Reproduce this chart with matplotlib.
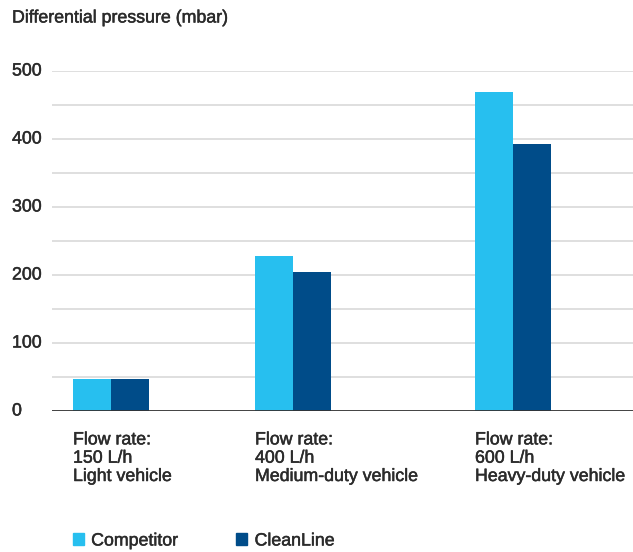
import matplotlib
matplotlib.use("Agg")
import matplotlib.pyplot as plt
import matplotlib.patches as mpatches
import matplotlib.transforms as mtransforms
import matplotlib.patheffects as pe

# ── Data ─────────────────────────────────────────────────────────────────────
categories = [
    "Flow rate:\n150 L/h\nLight vehicle",
    "Flow rate:\n400 L/h\nMedium-duty vehicle",
    "Flow rate:\n600 L/h\nHeavy-duty vehicle",
]
competitor = [47, 228, 469]
cleanline = [47, 204, 393]
series_names = ["Competitor", "CleanLine"]
y_ticks = [0, 100, 200, 300, 400, 500]

# ── Style ────────────────────────────────────────────────────────────────────
COMP_COLOR = "#27BFEF"
CLEAN_COLOR = "#004C89"
TEXT_COLOR = "#2b2b2b"
GRID_COLOR = "#d9d9d9"
FONT = "Liberation Sans"
FS = 12.8
# slight stroke to mimic the medium weight of the original typeface
BOLDEN = [pe.withStroke(linewidth=0.35, foreground=TEXT_COLOR)]

plt.rcParams["font.family"] = [FONT, "DejaVu Sans"]

W, H = 633, 552
fig = plt.figure(figsize=(W / 100, H / 100), dpi=100)

# axes spans the plot area in pixel terms: x 52..633, y 71..411
ax = fig.add_axes([52 / W, (H - 411) / H, (W - 52) / W, 340 / H])

# x positions (in pixels from axes left edge) of the left edge of each group
group_left = [21, 203, 423]
bar_w = 38

for i in range(len(categories)):
    x0 = group_left[i]
    ax.bar(x0, competitor[i], width=bar_w, align="edge", color=COMP_COLOR, zorder=3)
    ax.bar(x0 + bar_w, cleanline[i], width=bar_w, align="edge", color=CLEAN_COLOR, zorder=3)
    ax.text(x0, -0.060, categories[i], transform=ax.get_xaxis_transform(),
            ha="left", va="top", fontsize=FS, color=TEXT_COLOR, linespacing=1.1,
            path_effects=BOLDEN)

ax.set_xlim(0, W - 52)
ax.set_ylim(0, 500)

# gridlines every 50, labels every 100
for v in range(50, 501, 50):
    ax.axhline(v, color=GRID_COLOR, linewidth=1.2, zorder=1)
ax.axhline(0, color="#333333", linewidth=1.3, zorder=4)

ax.set_yticks([])
ax.set_xticks([])
for sp in ax.spines.values():
    sp.set_visible(False)

tr = mtransforms.blended_transform_factory(fig.transFigure, ax.transData)
for v in y_ticks:
    ax.text(12 / W, v, str(v), transform=tr, ha="left", va="center",
            fontsize=FS, color=TEXT_COLOR, path_effects=BOLDEN)

fig.text(12 / W, 1 - 18 / H, "Differential pressure (mbar)", ha="left", va="center",
         fontsize=FS, color=TEXT_COLOR, path_effects=BOLDEN)

handles = [
    mpatches.Patch(color=COMP_COLOR, label=series_names[0]),
    mpatches.Patch(color=CLEAN_COLOR, label=series_names[1]),
]
leg = fig.legend(handles=handles, loc="center left", bbox_to_anchor=(57 / W, 1 - 541 / H),
                 ncol=2, frameon=False, fontsize=FS, handlelength=0.62, handleheight=0.62,
                 handletextpad=0.4, columnspacing=3.3, labelcolor=TEXT_COLOR)
for t in leg.get_texts():
    t.set_path_effects(BOLDEN)

fig.savefig("out.png", dpi=100)
